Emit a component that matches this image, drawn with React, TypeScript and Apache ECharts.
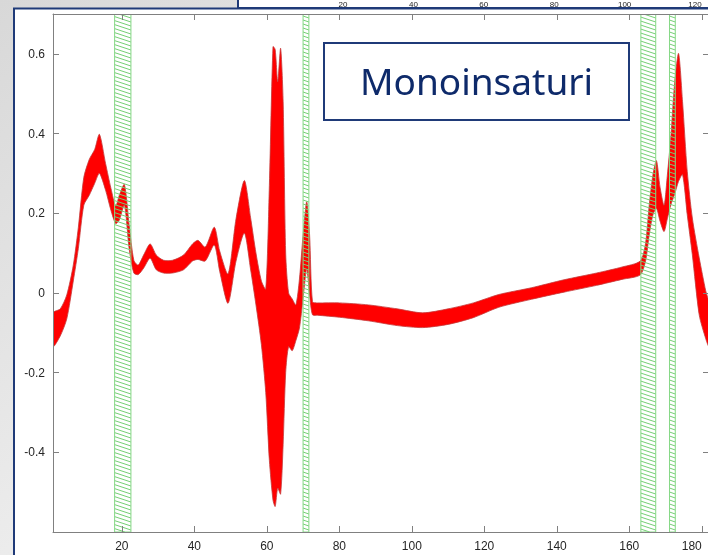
import React, { useEffect, useRef } from "react";
import * as echarts from "echarts";

// Sample positions (variable index) of the spectral bundle
const xs = [1, 3, 4.8, 6.6, 8, 9.5, 11, 12.5, 13.8, 15.5, 17, 18.3, 19.3, 20.7, 22, 23.3, 24.5, 26, 27.8, 29.5, 31.5, 34, 37, 39.5, 41, 43, 45.5, 47, 49.3, 51.5, 53.8, 55.5, 57, 58.5, 59.7, 60.7, 61.7, 62.3, 63, 63.8, 64.5, 65.2, 66, 67, 68, 69, 70, 71, 71.8, 72.6, 74, 80, 88, 96, 103, 110, 117, 124, 133, 142, 151, 158, 163, 164.5, 165.5, 166.5, 167.5, 168.5, 169.6, 170.5, 171.5, 172.5, 173.6, 174.7, 176, 177.4, 179.3, 181.1, 182];

// Upper envelope of the bundle of curves
const upper = [-0.05, -0.04, -0.005, 0.07, 0.165, 0.29, 0.335, 0.36, 0.398, 0.325, 0.262, 0.218, 0.245, 0.272, 0.172, 0.082, 0.07, 0.095, 0.123, 0.095, 0.082, 0.082, 0.095, 0.123, 0.132, 0.115, 0.165, 0.105, 0.048, 0.186, 0.282, 0.19, 0.1, 0.03, 0.01, 0.27, 0.618, 0.611, 0.53, 0.614, 0.48, 0.1, 0.0, -0.015, -0.03, 0.035, 0.145, 0.229, 0.145, -0.022, -0.025, -0.025, -0.03, -0.04, -0.05, -0.04, -0.025, -0.004, 0.013, 0.033, 0.05, 0.065, 0.08, 0.125, 0.22, 0.295, 0.332, 0.265, 0.22, 0.295, 0.395, 0.525, 0.601, 0.48, 0.305, 0.188, 0.088, 0.005, -0.025];

// Lower envelope of the bundle of curves
const lower = [-0.135, -0.108, -0.065, 0.03, 0.112, 0.22, 0.245, 0.275, 0.3, 0.258, 0.207, 0.174, 0.183, 0.22, 0.112, 0.05, 0.046, 0.062, 0.087, 0.058, 0.05, 0.05, 0.058, 0.08, 0.084, 0.08, 0.12, 0.054, -0.026, 0.08, 0.15, 0.06, -0.03, -0.13, -0.25, -0.42, -0.52, -0.536, -0.49, -0.505, -0.38, -0.2, -0.135, -0.145, -0.12, -0.088, -0.014, 0.06, -0.005, -0.055, -0.056, -0.061, -0.07, -0.082, -0.087, -0.079, -0.062, -0.036, -0.016, 0.002, 0.019, 0.034, 0.045, 0.08, 0.145, 0.195, 0.212, 0.18, 0.154, 0.186, 0.222, 0.247, 0.28, 0.297, 0.196, 0.096, -0.055, -0.115, -0.135];

// Selected (hatched) variable ranges
const bandStart = [18, 70, 163.2, 171.1];
const bandEnd = [22.5, 71.6, 167.3, 172.7];

const xTicks = [20, 40, 60, 80, 100, 120, 140, 160, 180];
const yTicks = [-0.4, -0.2, 0, 0.2, 0.4, 0.6];
const topPanelLabels = ["20", "40", "60", "80", "100", "120"];
const title = "Monoinsaturi";

const X_MIN = 1;
const X_MAX = 182;
const Y_MIN = -0.6;
const Y_MAX = 0.7;

const AXIS_COLOR = "#808080";
const LABEL_COLOR = "#262626";
const BORDER_BLUE = "#1f3a78";

function buildOption() {
  const bandData = bandStart.map((s, i) => [s, bandEnd[i]]);

  const axisCommon = {
    type: "value" as const,
    z: 10,
    splitLine: { show: false },
    axisLine: { show: true, onZero: false, lineStyle: { color: AXIS_COLOR, width: 1 } },
  };

  return {
    animation: false,
    backgroundColor: "transparent",
    grid: { left: 53, top: 14, right: -1, bottom: 23, containLabel: false, outerBoundsMode: "none" },
    xAxis: [
      {
        ...axisCommon,
        position: "bottom",
        min: X_MIN,
        max: X_MAX,
        axisTick: { show: true, inside: true, length: 6, customValues: xTicks, lineStyle: { color: AXIS_COLOR } },
        axisLabel: {
          show: true,
          customValues: xTicks,
          color: LABEL_COLOR,
          fontSize: 12,
          fontFamily: "Liberation Sans",
          margin: 8,
          alignMaxLabel: "right",
        },
      },
      {
        ...axisCommon,
        position: "top",
        min: X_MIN,
        max: X_MAX,
        axisTick: { show: true, inside: true, length: 6, customValues: xTicks, lineStyle: { color: AXIS_COLOR } },
        axisLabel: { show: false },
      },
    ],
    yAxis: [
      {
        ...axisCommon,
        position: "left",
        min: Y_MIN,
        max: Y_MAX,
        axisTick: { show: true, inside: true, length: 6, customValues: yTicks, lineStyle: { color: AXIS_COLOR } },
        axisLabel: {
          show: true,
          customValues: yTicks,
          color: LABEL_COLOR,
          fontSize: 12,
          fontFamily: "Liberation Sans",
          margin: 8,
          formatter: (v: number) => String(Math.round(v * 10) / 10),
        },
      },
      {
        ...axisCommon,
        position: "right",
        min: Y_MIN,
        max: Y_MAX,
        axisTick: { show: true, inside: true, length: 6, customValues: yTicks, lineStyle: { color: AXIS_COLOR } },
        axisLabel: { show: false },
      },
    ],
    series: [
      {
        type: "custom",
        name: "spectra",
        xAxisIndex: 0,
        yAxisIndex: 0,
        clip: true,
        z: 2,
        data: [[X_MIN, 0]],
        renderItem: (_params: any, api: any) => {
          const pts: number[][] = [];
          for (let i = 0; i < xs.length; i++) pts.push(api.coord([xs[i], upper[i]]));
          for (let i = xs.length - 1; i >= 0; i--) pts.push(api.coord([xs[i], lower[i]]));
          return {
            type: "polygon",
            shape: { points: pts, smooth: 0.25 },
            style: { fill: "#ff0000", stroke: "#c43a3a", lineWidth: 0.8 },
          };
        },
      },
      {
        type: "custom",
        name: "bands",
        xAxisIndex: 0,
        yAxisIndex: 0,
        clip: true,
        z: 4,
        data: bandData,
        renderItem: (_params: any, api: any) => {
          const p0 = api.coord([api.value(0), Y_MAX]);
          const p1 = api.coord([api.value(1), Y_MIN]);
          const left = p0[0];
          const right = p1[0];
          const top = p0[1];
          const bottom = p1[1];
          const w = right - left;
          const drop = Math.max(2, w * 0.33);
          const children: any[] = [];
          for (let y = top - drop; y < bottom; y += 4) {
            let xa = left;
            let ya = y;
            let xb = right;
            let yb = y + drop;
            if (ya < top) {
              xa = left + ((top - ya) / drop) * w;
              ya = top;
            }
            if (yb > bottom) {
              xb = left + ((bottom - y) / drop) * w;
              yb = bottom;
            }
            children.push({
              type: "line",
              shape: { x1: xa, y1: ya, x2: xb, y2: yb },
              style: { stroke: "#74cf74", lineWidth: 1 },
            });
          }
          children.push({
            type: "rect",
            shape: { x: left, y: top, width: w, height: bottom - top },
            style: { fill: "none", stroke: "#86d886", lineWidth: 1 },
          });
          return { type: "group", children };
        },
      },
    ],
    graphic: [
      {
        type: "rect",
        z: -100,
        silent: true,
        shape: { x: 0, y: 0, width: 708, height: 555 },
        style: {
          fill: new echarts.graphic.LinearGradient(0, 0, 1, 1, [
            { offset: 0, color: "#d8d8d8" },
            { offset: 0.5, color: "#ececec" },
            { offset: 1, color: "#dedede" },
          ]),
        },
      },
      {
        type: "rect",
        z: -90,
        silent: true,
        shape: { x: 238, y: -10, width: 480, height: 18 },
        style: { fill: "#ffffff", stroke: BORDER_BLUE, lineWidth: 2 },
      },
      ...topPanelLabels.map((t, i) => ({
        type: "text",
        z: -80,
        silent: true,
        x: 343 + i * 70.4,
        y: 0,
        style: {
          text: t,
          fill: LABEL_COLOR,
          fontSize: 8,
          fontFamily: "Liberation Sans",
          align: "center",
          verticalAlign: "top",
        },
      })),
      {
        type: "rect",
        z: -70,
        silent: true,
        shape: { x: 14, y: 8.5, width: 710, height: 560 },
        style: { fill: "#ffffff", stroke: BORDER_BLUE, lineWidth: 2 },
      },
      {
        type: "rect",
        z: 100,
        silent: true,
        shape: { x: 324, y: 43, width: 305, height: 77 },
        style: { fill: "#ffffff", stroke: BORDER_BLUE, lineWidth: 2 },
      },
      {
        type: "text",
        z: 101,
        silent: true,
        x: 476.5,
        y: 80,
        style: {
          text: title,
          fill: "#0e2a6a",
          fontSize: 37,
          fontFamily: "Noto Sans",
          align: "center",
          verticalAlign: "middle",
        },
      },
    ],
  };
}

export default function App() {
  const ref = useRef<HTMLDivElement>(null);
  useEffect(() => {
    if (!ref.current) return;
    const chart = echarts.init(ref.current, null, { renderer: "svg", width: 708, height: 555 });
    chart.setOption(buildOption() as any);
    return () => chart.dispose();
  }, []);
  return (
    <div
      ref={ref}
      style={{ position: "fixed", left: 0, top: 0, width: 708, height: 555, overflow: "hidden" }}
    />
  );
}
